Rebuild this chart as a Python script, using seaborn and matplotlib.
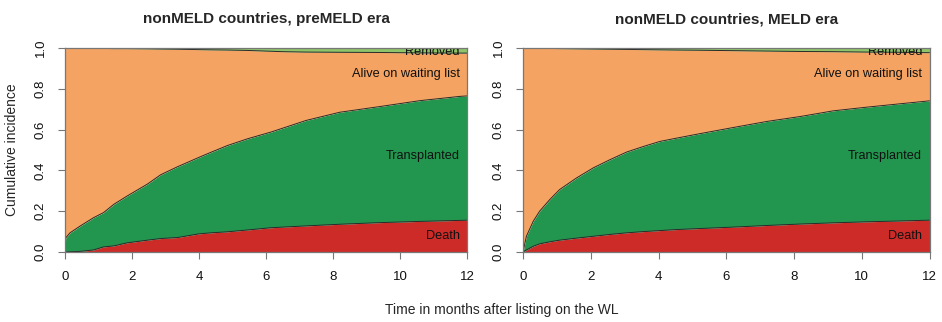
import numpy as np
import pandas as pd
import matplotlib
matplotlib.use("Agg")
import matplotlib.pyplot as plt
import seaborn as sns

# Cumulative incidence of each competing event (months after listing)
pre_time = [0, 0.02, 0.15, 0.45, 0.85, 1.15, 1.46, 1.86, 2.46, 2.86, 3.36, 4.0,
            4.36, 4.85, 5.45, 6.15, 6.5, 7.2, 8.2, 9.4, 10.6, 11.8, 12]
pre_death = [0, 0, 0.001, 0.003, 0.01, 0.025, 0.03, 0.045, 0.058, 0.066, 0.071,
             0.089, 0.094, 0.099, 0.108, 0.119, 0.122, 0.128, 0.136, 0.144, 0.15,
             0.155, 0.156]
pre_transplant = [0, 0.069, 0.093, 0.124, 0.158, 0.168, 0.204, 0.230, 0.275, 0.313,
                  0.347, 0.375, 0.395, 0.423, 0.447, 0.469, 0.485, 0.517, 0.549,
                  0.569, 0.592, 0.608, 0.609]
pre_removed = [0, 0, 0, 0, 0.001, 0.002, 0.003, 0.003, 0.004, 0.005, 0.006, 0.008,
               0.009, 0.01, 0.012, 0.016, 0.018, 0.02, 0.021, 0.022, 0.024, 0.025,
               0.025]

meld_time = [0, 0.1, 0.3, 0.49, 0.79, 1.08, 1.58, 2.07, 2.56, 3.06, 3.55, 4.04,
             4.53, 5.22, 6.2, 7.2, 8.18, 9.16, 10.15, 11.1, 12]
meld_death = [0, 0.01, 0.028, 0.04, 0.05, 0.058, 0.068, 0.077, 0.086, 0.094, 0.1,
              0.105, 0.11, 0.115, 0.122, 0.13, 0.137, 0.143, 0.148, 0.152, 0.156]
meld_transplant = [0, 0.067, 0.122, 0.16, 0.207, 0.248, 0.295, 0.335, 0.366, 0.396,
                   0.417, 0.437, 0.448, 0.465, 0.488, 0.51, 0.527, 0.549, 0.562,
                   0.574, 0.585]
meld_removed = [0, 0, 0.001, 0.002, 0.002, 0.003, 0.004, 0.005, 0.006, 0.007, 0.008,
                0.009, 0.01, 0.011, 0.013, 0.015, 0.017, 0.018, 0.02, 0.021, 0.023]

titles = ["nonMELD countries, preMELD era", "nonMELD countries, MELD era"]
state_labels = ["Death", "Transplanted", "Alive on waiting list", "Removed"]
state_colors = ["#cd2b28", "#22964f", "#f4a362", "#8fc46a"]
label_y = [0.08, 0.47, 0.875, 0.966]
label_va = ["center", "center", "center", "baseline"]
x_ticks = [0, 2, 4, 6, 8, 10, 12]
y_ticks = [0.0, 0.2, 0.4, 0.6, 0.8, 1.0]

sns.set_theme(style="white")
plt.rcParams["font.family"] = ["Liberation Sans", "DejaVu Sans"]

fig = plt.figure(figsize=(9.42, 3.22), dpi=100)
W, H = 942, 322
boxes = [(65, 467), (523, 929.5)]
top_px, bot_px = 48, 252

panels = [
    (pre_time, pre_death, pre_transplant, pre_removed),
    (meld_time, meld_death, meld_transplant, meld_removed),
]

for i, (t, d, tr, rm) in enumerate(panels):
    x0, x1 = boxes[i]
    ax = fig.add_axes([x0 / W, (H - bot_px) / H, (x1 - x0) / W, (bot_px - top_px) / H])
    df = pd.DataFrame({"time": t, "death": d, "transplant": tr, "removed": rm})
    df["b1"] = df["death"]
    df["b2"] = df["death"] + df["transplant"]
    df["b3"] = 1 - df["removed"]
    df["b4"] = 1.0
    lower = np.zeros(len(df))
    for k, col in enumerate(["b1", "b2", "b3", "b4"]):
        ax.fill_between(df["time"], lower, df[col], color=state_colors[k],
                        lw=0, zorder=1)
        lower = df[col].values
    for col in ["b1", "b2", "b3"]:
        sns.lineplot(data=df, x="time", y=col, ax=ax, color="#2a2a2a", lw=0.7,
                     zorder=3)
    for k, lab in enumerate(state_labels):
        ax.text(11.78, label_y[k], lab, ha="right", va=label_va[k], fontsize=9.2,
                color="#111111", zorder=4, clip_on=True)
    ax.set_xlim(0, 12)
    ax.set_ylim(0, 1)
    ax.set_xticks(x_ticks)
    ax.set_yticks(y_ticks)
    ax.set_xticklabels([str(v) for v in x_ticks], fontsize=9.5)
    ax.set_yticklabels([f"{v:.1f}" for v in y_ticks], rotation=90, va="center",
                       fontsize=9.5)
    ax.tick_params(axis="both", direction="out", length=5, width=0.8,
                   color="#777777", bottom=True, left=True, labelcolor="#111111")
    ax.tick_params(axis="x", pad=9)
    ax.tick_params(axis="y", pad=8)
    for s in ax.spines.values():
        s.set_color("#777777")
        s.set_linewidth(0.9)
        s.set_zorder(5)
    ax.set_xlabel("")
    ax.set_ylabel("")
    ax.set_title(titles[i], fontsize=11, fontweight="bold", pad=18)

fig.text(12 / W, 1 - 150 / H, "Cumulative incidence", rotation=90, ha="center",
         va="center", fontsize=10)
fig.text(502 / W, 1 - 310 / H, "Time in months after listing on the WL",
         ha="center", va="center", fontsize=10)

fig.savefig("out.png", dpi=100)
